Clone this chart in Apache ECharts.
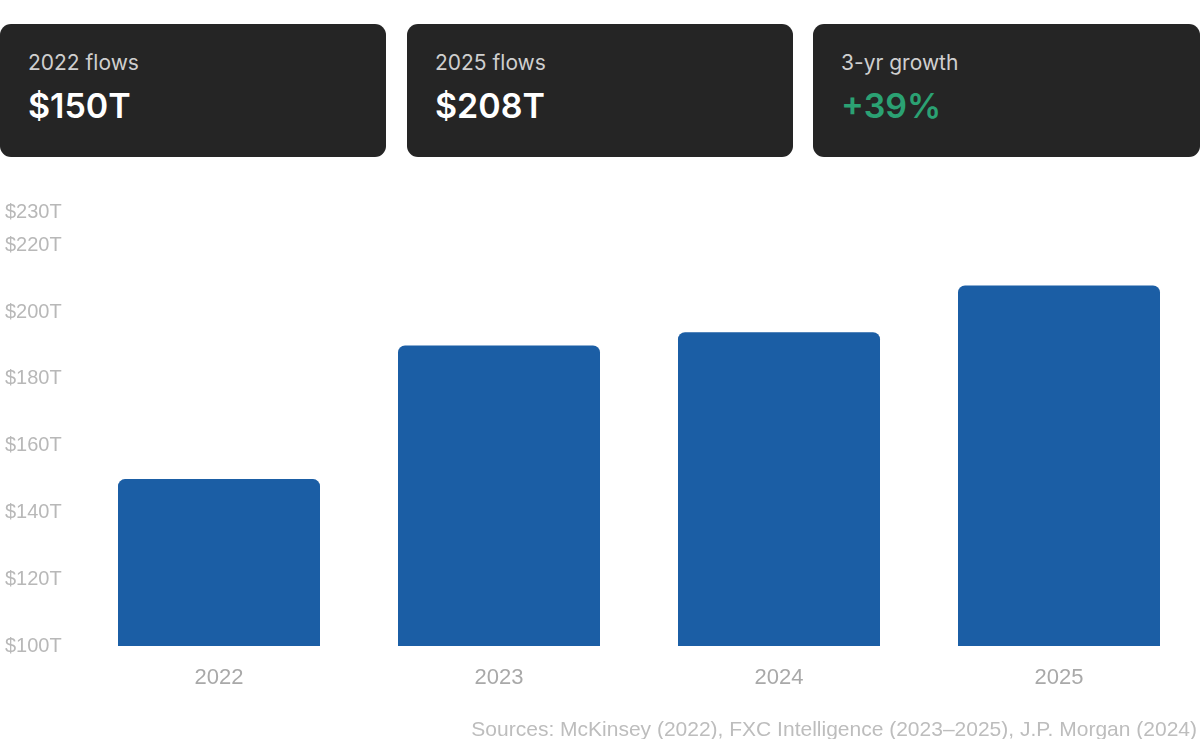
<!DOCTYPE html>
<html>
<head>
<meta charset="utf-8">
<script src="https://cdn.jsdelivr.net/npm/echarts@6/dist/echarts.min.js"></script>
<style>
  html, body {
    margin: 0;
    padding: 0;
    background: #ffffff;
    font-family: Inter, "Liberation Sans", Arial, sans-serif;
  }
  #wrap {
    position: relative;
    width: 1200px;
    height: 739px;
    overflow: hidden;
  }
  #chart {
    position: absolute;
    left: 0;
    top: 0;
    width: 1200px;
    height: 739px;
  }
  .card {
    position: absolute;
    top: 24px;
    height: 133px;
    background: #252525;
    border-radius: 11px;
    box-sizing: border-box;
    padding: 26px 0 0 28px;
  }
  .card .label {
    color: #cfcfcf;
    font-size: 21px;
    line-height: 26px;
  }
  .card .value {
    color: #ffffff;
    font-size: 34px;
    font-weight: 600;
    line-height: 40px;
    margin-top: 10px;
  }
  .card .value.green {
    color: #2ba173;
  }
</style>
</head>
<body>
<div id="wrap">
  <div id="chart"></div>
  <div id="cards"></div>
</div>
<script>
// 数据
const years = ['2022', '2023', '2024', '2025'];
const flows = [150, 190, 194, 208];
const cardLabels = ['2022 flows', '2025 flows', '3-yr growth'];
const cardValues = ['$150T', '$208T', '+39%'];
const sourceText = 'Sources: McKinsey (2022), FXC Intelligence (2023–2025), J.P. Morgan (2024)';

// 顶部卡片
function renderCards() {
  const lefts = [0, 407, 813];
  const widths = [386, 386, 387];
  const container = document.getElementById('cards');
  container.innerHTML = cardLabels.map((label, i) => `
    <div class="card" style="left:${lefts[i]}px;width:${widths[i]}px">
      <div class="label">${label}</div>
      <div class="value${i === 2 ? ' green' : ''}">${cardValues[i]}</div>
    </div>
  `).join('');
}

// 图表
function initChart() {
  const chart = echarts.init(document.getElementById('chart'));
  const option = {
    animation: false,
    grid: {
      left: 79,
      right: 1,
      top: 212,
      bottom: 93
    },
    xAxis: {
      type: 'category',
      data: years,
      axisLine: { show: false },
      axisTick: { show: false },
      axisLabel: {
        color: '#a9a9a9',
        fontSize: 22,
        margin: 21,
        fontFamily: '"Liberation Sans", Arial, sans-serif'
      }
    },
    yAxis: {
      type: 'value',
      min: 100,
      max: 230,
      interval: 20,
      axisLine: { show: false },
      axisTick: { show: false },
      splitLine: { show: false },
      axisLabel: {
        color: '#b8b8b8',
        fontSize: 20,
        align: 'left',
        margin: 74,
        fontFamily: '"Liberation Sans", Arial, sans-serif',
        formatter: function(value) {
          return '$' + value + 'T';
        }
      }
    },
    series: [{
      type: 'bar',
      data: flows,
      barWidth: 202,
      itemStyle: {
        color: '#1b5ea5',
        borderRadius: [7, 7, 0, 0]
      }
    }],
    graphic: [{
      type: 'text',
      right: 3,
      top: 720,
      style: {
        text: sourceText,
        fill: '#bdbdbd',
        fontSize: 21,
        fontFamily: '"Liberation Sans", Arial, sans-serif'
      }
    }]
  };
  chart.setOption(option);
}

renderCards();
initChart();
</script>
</body>
</html>
